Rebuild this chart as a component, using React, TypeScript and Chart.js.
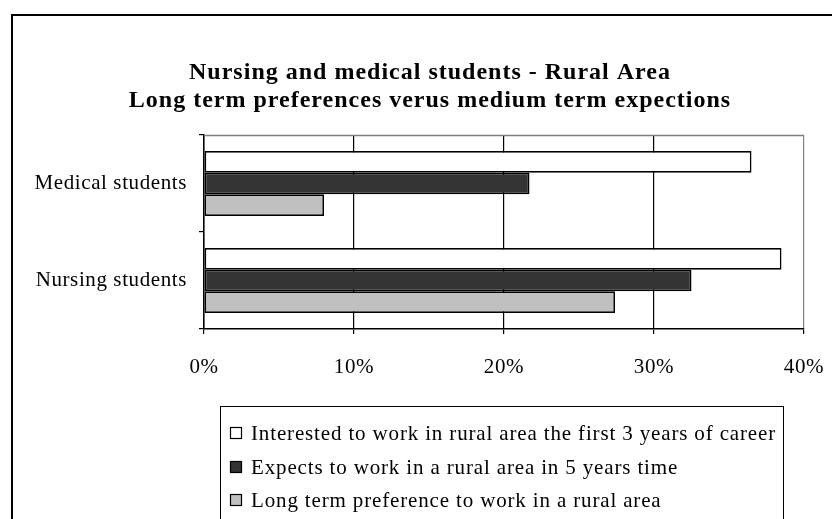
import React, { useEffect, useRef } from "react";
import { Chart, registerables } from "chart.js";

Chart.register(...registerables);

const categories = ["Medical students", "Nursing students"];
const seriesNames = [
  "Interested to work in rural area the first 3 years of career",
  "Expects to work in a rural area in 5 years time",
  "Long term preference to work in a rural area",
];
const interested = [36.5, 38.5];
const expects = [21.7, 32.5];
const longTerm = [8.0, 27.4];
const xTicks = [0, 10, 20, 30, 40];
const titleLines = [
  "Nursing and medical students - Rural Area",
  "Long term preferences verus medium term expections",
];
const colors = ["#FFFFFF", "#333333", "#C0C0C0"];

const FONT = "'Liberation Serif', 'DejaVu Serif', serif";
const BODY_SPACING = "0.6px";

const decorPlugin = {
  id: "decor",
  beforeLayout(chart: any) {
    chart.ctx.letterSpacing = BODY_SPACING;
  },
  beforeDraw(chart: any) {
    const ctx = chart.ctx;
    ctx.save();
    ctx.fillStyle = "#FFFFFF";
    ctx.fillRect(0, 0, chart.width, chart.height);
    ctx.restore();
    ctx.letterSpacing = BODY_SPACING;
  },
  afterDraw(chart: any) {
    const ctx = chart.ctx;
    const area = chart.chartArea;
    ctx.save();
    // outer frame
    ctx.strokeStyle = "#000000";
    ctx.lineWidth = 2;
    ctx.strokeRect(12, 15, 1000, 1000);
    // plot area top border
    ctx.strokeStyle = "#808080";
    ctx.lineWidth = 1.5;
    ctx.beginPath();
    ctx.moveTo(area.left, area.top + 0.5);
    ctx.lineTo(area.right, area.top + 0.5);
    ctx.stroke();
    // title
    ctx.fillStyle = "#000000";
    ctx.letterSpacing = "1px";
    ctx.font = "bold 24px " + FONT;
    ctx.textAlign = "center";
    ctx.textBaseline = "middle";
    ctx.fillText(titleLines[0], 430, 73);
    ctx.fillText(titleLines[1], 430, 101);
    // legend box
    ctx.letterSpacing = "0.85px";
    ctx.strokeStyle = "#000000";
    ctx.lineWidth = 1;
    ctx.strokeRect(220.5, 406.5, 563, 200);
    ctx.font = "21px " + FONT;
    ctx.textAlign = "left";
    const rows = [433, 467, 500];
    chart.data.datasets.forEach((ds: any, i: number) => {
      const y = rows[i];
      ctx.fillStyle = ds.backgroundColor;
      ctx.fillRect(230, y - 6, 12, 12);
      ctx.strokeStyle = "#000000";
      ctx.lineWidth = 1.2;
      ctx.strokeRect(230.5, y - 5.5, 11, 11);
      ctx.fillStyle = "#000000";
      ctx.fillText(ds.label, 251, y + 1);
    });
    ctx.restore();
  },
};

export default function App() {
  const ref = useRef<HTMLCanvasElement | null>(null);
  useEffect(() => {
    if (!ref.current) return;
    const chart = new Chart(ref.current, {
      type: "bar",
      data: {
        labels: categories,
        datasets: [interested, expects, longTerm].map((d, i) => ({
          label: seriesNames[i],
          data: d,
          backgroundColor: colors[i],
          borderColor: "#000000",
          borderWidth: 1.7,
          borderSkipped: false,
          barPercentage: 1,
          categoryPercentage: 0.668,
        })),
      },
      options: {
        indexAxis: "y",
        responsive: false,
        animation: false,
        layout: { padding: { top: 135, left: 0, right: 28, bottom: 0 } },
        plugins: {
          legend: { display: false },
          title: { display: false },
          tooltip: { enabled: false },
        },
        scales: {
          x: {
            min: 0,
            max: 40,
            afterBuildTicks(scale: any) {
              scale.ticks = xTicks.map((v) => ({ value: v }));
            },
            afterFit(scale: any) {
              scale.height = 519 - 135 - 194;
              scale.paddingLeft = 0;
              scale.paddingRight = 0;
            },
            ticks: {
              callback: (v: any) => v + "%",
              color: "#000000",
              font: { family: FONT, size: 21 },
              padding: 21,
              maxRotation: 0,
            },
            grid: {
              color: (c: any) => (c.index === xTicks.length - 1 ? "#808080" : "#000000"),
              tickColor: "#000000",
              tickLength: 5,
              lineWidth: 1.2,
            },
            border: { color: "#000000", width: 1.5 },
          },
          y: {
            afterFit(scale: any) {
              scale.width = 204;
            },
            ticks: {
              color: "#000000",
              font: { family: FONT, size: 21 },
              padding: 12,
            },
            grid: {
              drawOnChartArea: false,
              color: "#000000",
              tickLength: 5,
              lineWidth: 1.2,
            },
            border: { color: "#000000", width: 1.5 },
          },
        },
      },
      plugins: [decorPlugin],
    } as any);
    return () => chart.destroy();
  }, []);
  return (
    <div style={{ position: "absolute", left: 0, top: 0, width: 832, height: 519 }}>
      <canvas ref={ref} width={832} height={519} />
    </div>
  );
}
